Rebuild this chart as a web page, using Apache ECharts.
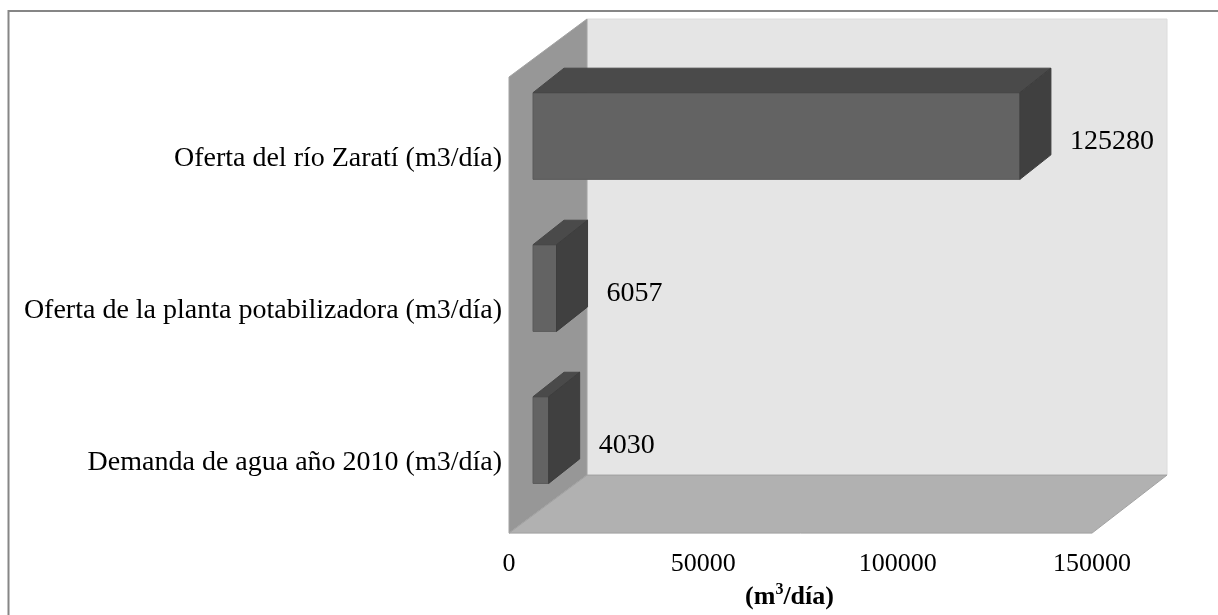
<!DOCTYPE html>
<html>
<head>
<meta charset="utf-8">
<title>Oferta y demanda de agua</title>
<script src="https://cdn.jsdelivr.net/npm/echarts@6/dist/echarts.min.js"></script>
<style>
  html, body { margin: 0; padding: 0; background: #ffffff; }
  #chart { width: 1218px; height: 615px; }
</style>
</head>
<body>
<div id="chart"></div>
<script>
// Categories, bottom to top
const categories = [
  'Demanda de agua año 2010 (m3/día)',
  'Oferta de la planta potabilizadora (m3/día)',
  'Oferta del río Zaratí (m3/día)'
];
// Daily volumes (m3/día)
const values = [4030, 6057, 125280];
// Value axis range and step
const axisMin = 0;
const axisMax = 150000;
const axisStep = 50000;

const FONT = '"Liberation Serif", "Times New Roman", serif';

// 3D look: depth of the box walls and of the bars (in pixels)
const WALL_DX_LEFT = 78, WALL_DX_RIGHT = 75, WALL_DY = -58;
const BAR_OFF_DX = 24, BAR_OFF_DY = -17;
const BAR_DX = 31, BAR_DY = -24.5;
const BAR_RATIO = 0.57;

const chart = echarts.init(document.getElementById('chart'), null, { renderer: 'canvas' });

function renderWalls(params) {
  const cs = params.coordSys;
  const x0 = cs.x, x1 = cs.x + cs.width;
  const yT = cs.y, yB = cs.y + cs.height;
  return {
    type: 'group',
    children: [
      { // back wall
        type: 'rect',
        shape: { x: x0 + WALL_DX_LEFT, y: yT + WALL_DY, width: (x1 + WALL_DX_RIGHT) - (x0 + WALL_DX_LEFT), height: yB - yT },
        style: { fill: '#e5e5e5', stroke: '#dcdcdc', lineWidth: 1 }
      },
      { // left side wall
        type: 'polygon',
        shape: { points: [[x0, yT], [x0 + WALL_DX_LEFT, yT + WALL_DY], [x0 + WALL_DX_LEFT, yB + WALL_DY], [x0, yB]] },
        style: { fill: '#979797', stroke: '#a3a3a3', lineWidth: 1 }
      },
      { // floor
        type: 'polygon',
        shape: { points: [[x0, yB], [x1, yB], [x1 + WALL_DX_RIGHT, yB + WALL_DY], [x0 + WALL_DX_LEFT, yB + WALL_DY]] },
        style: { fill: '#b1b1b1', stroke: '#a2a2a2', lineWidth: 1 }
      }
    ]
  };
}

function renderBar(params, api) {
  const v = api.value(0);
  const start = api.coord([axisMin, api.value(1)]);
  const end = api.coord([v, api.value(1)]);
  const band = api.size([0, 1])[1];
  const h = band * BAR_RATIO;
  const fl = start[0] + BAR_OFF_DX;
  const fr = end[0] + BAR_OFF_DX;
  const ft = start[1] + BAR_OFF_DY - h / 2;
  const fb = ft + h;
  return {
    type: 'group',
    children: [
      { // front face
        type: 'rect',
        shape: { x: fl, y: ft, width: fr - fl, height: h },
        style: { fill: '#636363', stroke: '#5a5a5a', lineWidth: 1 }
      },
      { // top face
        type: 'polygon',
        shape: { points: [[fl, ft], [fl + BAR_DX, ft + BAR_DY], [fr + BAR_DX, ft + BAR_DY], [fr, ft]] },
        style: { fill: '#4a4a4a', stroke: '#474747', lineWidth: 1 }
      },
      { // right face
        type: 'polygon',
        shape: { points: [[fr, ft], [fr + BAR_DX, ft + BAR_DY], [fr + BAR_DX, fb + BAR_DY], [fr, fb]] },
        style: { fill: '#404040', stroke: '#3d3d3d', lineWidth: 1 }
      },
      { // value label
        type: 'text',
        style: {
          text: String(v),
          x: fr + BAR_DX + 19,
          y: start[1] - 11,
          align: 'left',
          verticalAlign: 'middle',
          fontFamily: FONT,
          fontSize: 28,
          fill: '#000000'
        }
      }
    ]
  };
}

const option = {
  backgroundColor: '#ffffff',
  animation: false,
  graphic: [{
    type: 'rect',
    shape: { x: 8.5, y: 11, width: 1400, height: 800 },
    style: { fill: 'none', stroke: '#868686', lineWidth: 2 },
    silent: true
  }],
  grid: { left: 509, right: 126, top: 77, bottom: 69, containLabel: false },
  xAxis: {
    type: 'value',
    min: axisMin,
    max: axisMax,
    interval: axisStep,
    axisLine: { show: false },
    axisTick: { show: false },
    splitLine: { show: false },
    axisLabel: {
      margin: 18,
      fontFamily: FONT,
      fontSize: 26,
      color: '#000000',
      showMinLabel: true,
      showMaxLabel: true,
      hideOverlap: false,
      formatter: (val) => String(val)
    },
    name: '{b|(m}{s|3}{b|/día)}',
    nameLocation: 'middle',
    nameGap: 46,
    nameTextStyle: {
      padding: [0, 22, 0, 0],
      rich: {
        b: { fontFamily: FONT, fontSize: 26, fontWeight: 'bold', color: '#000000', lineHeight: 30 },
        s: { fontFamily: FONT, fontSize: 16, fontWeight: 'bold', color: '#000000', verticalAlign: 'top', lineHeight: 30, padding: [0, 0, 12, 0] }
      }
    }
  },
  yAxis: {
    type: 'category',
    data: categories,
    axisLine: { show: false },
    axisTick: { show: false },
    splitLine: { show: false },
    axisLabel: {
      margin: 7,
      // a thin empty first line nudges each label slightly below the band centre
      formatter: (name) => '{gap| }\n{c|' + name + '}',
      rich: {
        gap: { fontSize: 6, lineHeight: 12 },
        c: { fontFamily: FONT, fontSize: 28, color: '#000000', lineHeight: 32 }
      }
    }
  },
  series: [
    {
      type: 'custom',
      name: 'walls',
      z: 1,
      silent: true,
      renderItem: renderWalls,
      encode: { x: 0, y: 1 },
      data: [[axisMin, 0]]
    },
    {
      type: 'custom',
      name: 'bars',
      z: 2,
      renderItem: renderBar,
      encode: { x: 0, y: 1 },
      data: values.map((v, i) => [v, i])
    }
  ]
};

chart.setOption(option);
</script>
</body>
</html>
